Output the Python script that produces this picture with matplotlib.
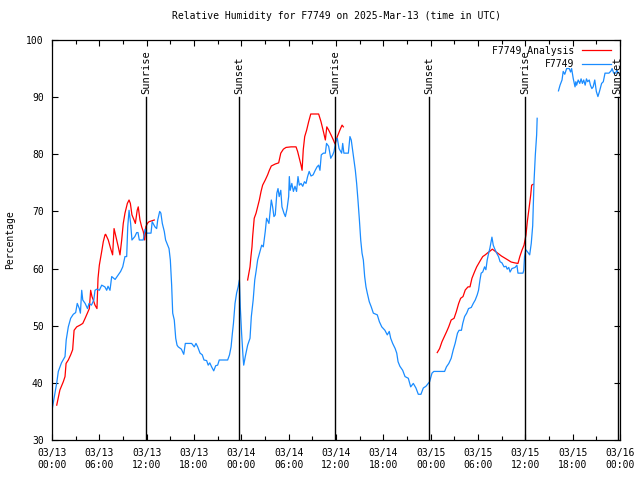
import matplotlib

matplotlib.use("Agg")
import matplotlib.dates as mdates
import matplotlib.pyplot as plt
import numpy as np

# hours after 2025-03-13 00:00 UTC, relative humidity (%)
obs_hours_1 = [
    0.0, 0.6, 0.8, 1.2, 1.65, 1.8, 2.07, 2.37, 2.7, 3.0, 3.2, 3.46, 3.6, 3.76, 3.9,
    4.2, 4.5, 4.7, 5.0, 5.3, 5.45, 5.66, 6.0, 6.3, 6.7, 6.93, 7.1, 7.35, 7.57, 8.0,
    8.4, 8.7, 8.96, 9.25, 9.47, 9.6, 9.76, 9.97, 10.14, 10.5, 10.74, 10.9, 11.07,
    11.57, 11.8, 12.0, 12.55, 12.7, 13.05, 13.27, 13.4, 13.65, 13.8, 13.98, 14.24,
    14.4, 14.66, 14.83, 15.0, 15.17, 15.3, 15.5, 15.68, 15.85, 16.0, 16.4, 16.7,
    16.9, 17.7, 18.04, 18.25, 18.47, 18.76, 19.05, 19.27, 19.6, 19.8, 20.0, 20.24,
    20.5, 20.75, 21.0, 21.2, 22.27, 22.5, 22.7, 22.86, 23.0, 23.2, 23.4, 23.6,
    23.75, 23.87, 24.04, 24.2, 24.3, 24.5, 24.8, 25.1, 25.27, 25.5, 25.7, 25.86,
    26.07, 26.37, 26.58, 26.78, 27.04, 27.2, 27.5, 27.63, 27.8, 27.97, 28.14, 28.3,
    28.5, 28.65, 28.8, 29.0, 29.15, 29.4, 29.58, 29.8, 30.0, 30.08, 30.2, 30.4,
    30.6, 30.8, 31.0, 31.18, 31.35, 31.56, 31.78, 32.0, 32.2, 32.4, 32.6, 32.83,
    33.1, 33.37, 33.6, 33.8, 33.97, 34.14, 34.4, 34.65, 34.8, 35.07, 35.33, 35.45,
    35.58, 35.75, 36.0, 36.16, 36.38, 36.6, 36.72, 36.85, 37.0, 37.56, 37.77,
    37.94, 38.1, 38.28, 38.45, 38.62, 38.79, 38.96, 39.13, 39.3, 39.46, 39.64,
    39.8, 39.97, 40.22, 40.47, 40.73, 41.24, 41.5, 41.8, 42.2, 42.5, 42.75, 42.93,
    43.19, 43.5, 43.7, 43.86, 44.1, 44.45, 44.75, 45.16, 45.47, 45.8, 46.14,
    46.43, 46.77, 47.07, 47.4, 47.75, 47.87, 48.17, 48.4, 49.35, 49.77, 50.0,
    50.3, 50.6, 50.87, 51.1, 51.4, 51.6, 51.9, 52.06, 52.3, 52.57, 52.8, 53.15,
    53.4, 53.65, 53.9, 54.07, 54.25, 54.4, 54.6, 54.83, 55.0, 55.17, 55.35, 55.5,
    55.77, 55.94, 56.1, 56.36, 56.6, 56.8, 57.04, 57.3, 57.55, 57.7, 57.9, 58.06,
    58.3, 58.7, 58.94, 59.07, 59.7, 59.8, 59.9, 60.05, 60.24, 60.55, 60.75, 60.93,
    61.1, 61.27, 61.44, 61.5,
]
obs_rh_1 = [
    35.2, 40.0, 42.0, 43.5, 44.6, 47.5, 49.8, 51.3, 52.0, 52.3, 53.9, 53.0, 52.2,
    56.2, 54.5, 53.9, 53.0, 53.9, 53.6, 54.5, 56.2, 56.4, 56.2, 57.1, 56.8, 56.2,
    56.9, 56.2, 58.6, 58.1, 58.9, 59.5, 60.3, 62.1, 62.1, 67.3, 70.2, 67.9, 65.0,
    65.6, 66.3, 66.3, 65.0, 65.0, 66.9, 66.2, 66.2, 68.2, 67.3, 67.0, 68.5, 70.0,
    69.7, 67.9, 66.5, 65.0, 64.1, 63.5, 61.5, 57.1, 52.2, 51.0, 47.8, 46.6, 46.3,
    45.9, 45.0, 46.9, 46.9, 46.3, 46.9, 46.3, 45.2, 44.9, 44.0, 43.9, 43.1, 43.5,
    42.8, 42.1, 43.0, 43.1, 44.0, 44.0, 44.9, 46.3, 48.7, 50.4, 53.9, 55.7, 56.8,
    58.0, 53.3, 48.7, 44.9, 43.1, 44.6, 46.6, 47.8, 51.6, 54.5, 58.0, 59.5, 61.5,
    63.0, 64.1, 63.8, 66.5, 68.8, 67.9, 69.7, 72.0, 70.8, 69.1, 69.4, 73.2, 74.0,
    72.6, 73.7, 70.8, 69.7, 69.1, 70.5, 72.6, 76.1, 73.7, 74.9, 73.5, 74.4, 73.5,
    76.1, 74.6, 74.9, 74.4, 75.2, 74.9, 76.1, 77.0, 76.2, 76.4, 77.2, 77.8, 78.1,
    77.2, 79.9, 80.2, 80.2, 81.9, 81.4, 79.3, 79.6, 79.9, 80.5, 82.5, 82.8, 81.0,
    80.5, 80.2, 81.9, 80.2, 80.2, 83.1, 82.5, 80.8, 79.0, 77.2, 74.9, 72.0, 68.5,
    65.0, 62.7, 61.5, 58.6, 56.8, 55.7, 54.2, 53.3, 52.2, 51.9, 50.7, 49.8, 49.2,
    48.4, 49.0, 47.8, 46.9, 46.0, 45.2, 43.7, 42.9, 42.2, 41.1, 40.8, 39.3, 39.9,
    39.1, 38.0, 38.0, 39.1, 39.4, 40.0, 40.2, 41.7, 42.0, 42.0, 42.0, 42.8, 43.4,
    44.3, 45.8, 46.9, 48.7, 49.2, 49.2, 50.4, 51.6, 52.2, 53.0, 53.2, 53.9, 54.5,
    55.4, 56.2, 58.0, 59.2, 59.4, 60.3, 59.8, 61.5, 62.7, 63.5, 65.5, 64.1, 63.5,
    62.7, 62.1, 61.2, 61.0, 60.3, 60.4, 59.9, 60.2, 59.4, 60.0, 60.2, 60.6, 59.2,
    59.2, 59.7, 62.1, 63.3, 63.0, 62.4, 64.4, 67.5, 75.2, 79.9, 83.4, 86.3,
]
obs_hours_2 = [
    64.2, 64.4, 64.65, 64.8, 65.0, 65.24, 65.57, 65.74, 65.87, 66.07, 66.3, 66.4,
    66.5, 66.7, 66.9, 67.07, 67.24, 67.4, 67.58, 67.75, 67.9, 68.1, 68.25, 68.44,
    68.6, 68.8, 69.0, 69.2, 69.4, 69.67, 69.88, 70.1, 70.35, 70.6, 70.86, 71.0,
    71.2, 71.45, 71.6, 71.8,
]
obs_rh_2 = [
    91.1, 92.1, 93.0, 94.5, 94.0, 95.0, 95.0, 94.4, 95.0, 93.3, 91.8, 92.7, 92.1,
    93.0, 92.4, 93.2, 92.4, 93.0, 92.1, 93.2, 92.7, 93.0, 92.1, 91.5, 91.8, 93.0,
    91.0, 90.1, 91.0, 92.4, 92.7, 94.2, 94.2, 94.2, 94.6, 95.0, 94.2, 94.2, 94.7,
    94.2,
]

ana_hours_1 = [
    0.6, 1.0, 1.43, 1.65, 1.78, 2.07, 2.37, 2.62, 2.8, 3.13, 3.55, 3.9, 4.2, 4.48,
    4.73, 4.9, 5.07, 5.24, 5.45, 5.7, 5.83, 6.0, 6.3, 6.5, 6.72, 6.8, 7.14, 7.44,
    7.69, 7.86, 8.1, 8.4, 8.62, 8.83, 9.04, 9.25, 9.55, 9.76, 9.93, 10.14, 10.4,
    10.56, 10.8, 10.94, 11.15, 11.37, 11.57, 11.75, 11.9, 12.08, 12.3, 12.97,
]
ana_rh_1 = [
    36.1, 38.75, 40.2, 41.1, 43.4, 44.0, 44.9, 45.8, 49.2, 49.8, 50.1, 50.4, 51.3,
    52.2, 53.0, 56.2, 55.1, 54.5, 53.6, 53.0, 58.3, 60.6, 63.0, 64.7, 65.9, 66.0,
    65.0, 63.5, 62.4, 67.0, 65.6, 63.8, 62.4, 65.0, 67.9, 69.7, 71.4, 72.0, 71.4,
    69.4, 68.5, 67.9, 70.2, 70.8, 68.5, 67.3, 66.5, 65.0, 67.3, 67.9, 68.2, 68.5,
]
ana_hours_2 = [
    24.8, 25.1, 25.22, 25.35, 25.44, 25.64, 25.86, 26.07, 26.28, 26.5, 26.7,
    27.04, 27.34, 27.55, 27.8, 28.3, 28.73, 29.0, 29.33, 29.66, 30.3, 30.93,
    31.14, 31.35, 31.56, 31.7, 31.85, 32.03, 32.28, 32.53, 32.8, 33.8, 34.1, 34.4,
    34.65, 34.83, 35.07, 35.37, 35.66, 35.87, 36.17, 36.5, 36.76, 36.93,
]
ana_rh_2 = [
    58.0, 60.3, 62.1, 63.8, 65.6, 68.8, 69.7, 70.8, 72.0, 73.5, 74.6, 75.5, 76.4,
    77.2, 77.95, 78.3, 78.5, 80.2, 80.9, 81.2, 81.3, 81.3, 80.5, 79.3, 78.1, 77.2,
    80.8, 83.1, 84.25, 85.7, 87.05, 87.05, 85.7, 84.0, 82.5, 84.8, 84.25, 83.4,
    82.5, 81.8, 83.1, 84.25, 85.1, 84.8,
]
ana_hours_3 = [
    48.84, 49.14, 49.43, 49.77, 50.03, 50.28, 50.6, 50.96, 51.25, 51.55, 51.8,
    52.1, 52.39, 52.73, 52.98, 53.24, 53.57, 53.83, 54.08, 54.34, 54.6, 54.92,
    55.27, 55.56, 55.81, 56.1, 56.5, 56.96, 57.38, 57.8, 58.2, 58.65, 59.07, 59.3,
    59.58, 59.83, 60.08, 60.25, 60.46, 60.68, 60.8, 61.0,
]
ana_rh_3 = [
    45.3, 46.0, 47.2, 48.2, 49.0, 49.8, 51.0, 51.3, 52.45, 53.9, 54.8, 55.1,
    56.25, 56.8, 56.8, 58.3, 59.45, 60.3, 60.9, 61.5, 62.1, 62.4, 62.8, 63.1,
    63.4, 63.1, 62.7, 62.2, 61.85, 61.5, 61.15, 61.0, 60.9, 62.1, 63.25, 64.1,
    65.9, 68.2, 70.5, 72.9, 74.6, 74.75,
]

sun_hours = [11.95, 23.74, 35.9, 47.83, 60.0, 71.7]
sun_labels = ["Sunrise", "Sunset", "Sunrise", "Sunset", "Sunrise", "Sunset"]

start = np.datetime64("2025-03-13T00:00")


def to_time(hours):
    return start + (np.asarray(hours) * 60).round().astype("timedelta64[m]")


plt.rcParams["font.family"] = ["DejaVu Sans Mono"]
plt.rcParams["font.size"] = 7

fig = plt.figure(figsize=(6.4, 4.8), dpi=100)
ax = fig.add_axes([52 / 640, 40 / 480, 568 / 640, 400 / 480])

red = "#ff0000"
blue = "#1a8cff"

for i, (h, v) in enumerate(
    [(ana_hours_1, ana_rh_1), (ana_hours_2, ana_rh_2), (ana_hours_3, ana_rh_3)]
):
    ax.plot(to_time(h), v, color=red, lw=0.9,
            label="F7749 Analysis" if i == 0 else None)
for i, (h, v) in enumerate([(obs_hours_1, obs_rh_1), (obs_hours_2, obs_rh_2)]):
    ax.plot(to_time(h), v, color=blue, lw=0.9, label="F7749" if i == 0 else None)

# sunrise / sunset markers
for h, lab in zip(sun_hours, sun_labels):
    t = to_time([h])[0]
    ax.plot([t, t], [30, 90], color="black", lw=1.0)
    ax.text(t, 90.6, lab, rotation=90, ha="center", va="bottom", fontsize=7.5)

ax.set_xlim(start, start + np.timedelta64(72, "h"))
ax.set_ylim(30, 100)
ax.set_yticks(np.arange(30, 101, 10))
ax.xaxis.set_major_locator(mdates.HourLocator(byhour=[0, 6, 12, 18]))
ax.xaxis.set_minor_locator(mdates.HourLocator(byhour=[3, 9, 15, 21]))
ax.xaxis.set_major_formatter(mdates.DateFormatter("%m/%d\n%H:%M"))
ax.tick_params(which="both", direction="in", top=True, right=True, width=0.8)
ax.tick_params(which="major", length=4.5, pad=6)
ax.tick_params(which="minor", length=3)
for s in ax.spines.values():
    s.set_linewidth(0.9)

ax.set_title("Relative Humidity for F7749 on 2025-Mar-13 (time in UTC)",
             fontsize=7, pad=15)
ax.set_ylabel("Percentage", labelpad=8)

ax.legend(loc="upper right", frameon=False, markerfirst=False, handlelength=3.0,
          handletextpad=0.8, labelspacing=0.35, borderaxespad=0.2,
          bbox_to_anchor=(0.995, 1.0))

fig.savefig("out.png", dpi=100)
